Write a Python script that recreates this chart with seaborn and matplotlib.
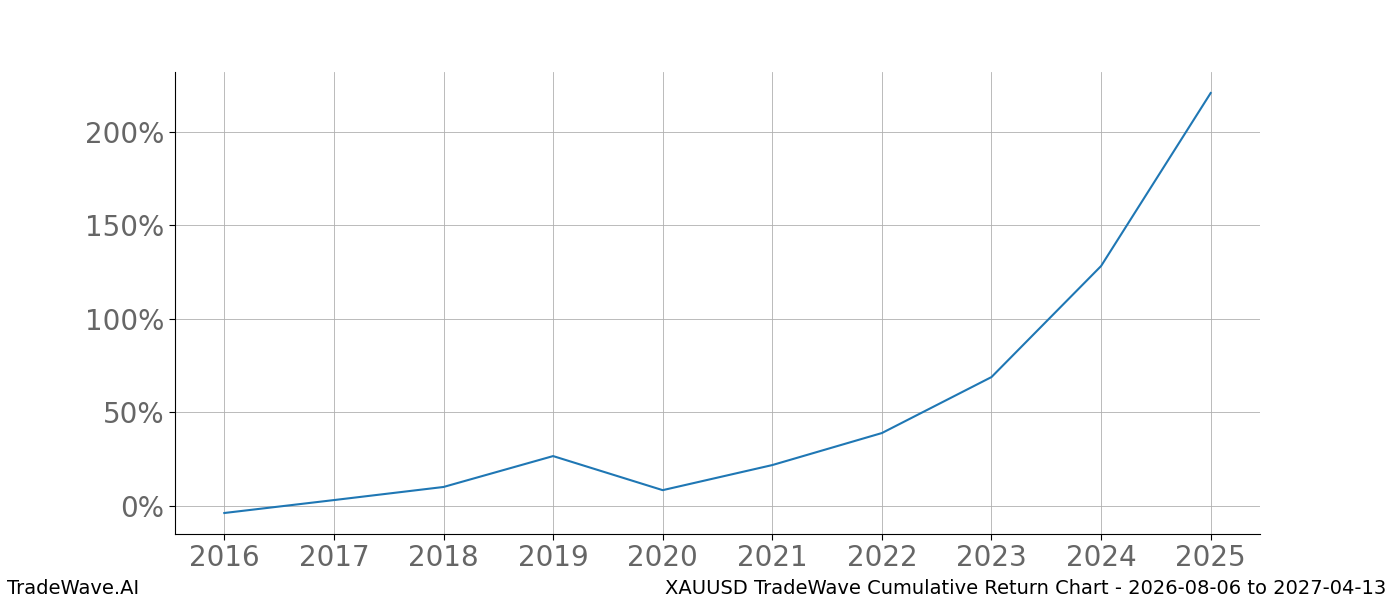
import matplotlib
matplotlib.use("Agg")
import matplotlib.pyplot as plt
import seaborn as sns
import pandas as pd
from matplotlib.ticker import FuncFormatter

years = [2016, 2017, 2018, 2019, 2020, 2021, 2022, 2023, 2024, 2025]
returns = [-3.7, 3.2, 10.2, 26.7, 8.5, 21.9, 39.0, 68.9, 128.2, 220.6]
tick_labels = [str(y) for y in years]

df = pd.DataFrame({"year": years, "ret": returns})

fig = plt.figure(figsize=(14, 6), dpi=100)
ax = fig.add_axes([0.125, 0.11, 0.775, 0.77])
sns.lineplot(data=df, x="year", y="ret", ax=ax, color="#1f77b4", linewidth=1.5)
ax.set_xticks(years)
ax.set_xticklabels(tick_labels)
ax.yaxis.set_major_formatter(FuncFormatter(lambda v, p: f"{v:.0f}%"))
ax.set_yticks([0, 50, 100, 150, 200])
ax.grid(True, color="#b0b0b0", linewidth=0.6)
ax.set_axisbelow(True)
ax.spines["top"].set_visible(False)
ax.spines["right"].set_visible(False)
ax.tick_params(axis="both", labelsize=20, labelcolor="#666666", length=4)
ax.set_xlabel("")
ax.set_ylabel("")
fig.text(0.005, 0.02, "TradeWave.AI", fontsize=14, ha="left", va="center")
fig.text(0.99, 0.02, "XAUUSD TradeWave Cumulative Return Chart - 2026-08-06 to 2027-04-13",
         fontsize=14, ha="right", va="center")
fig.savefig("out.png", dpi=100)
